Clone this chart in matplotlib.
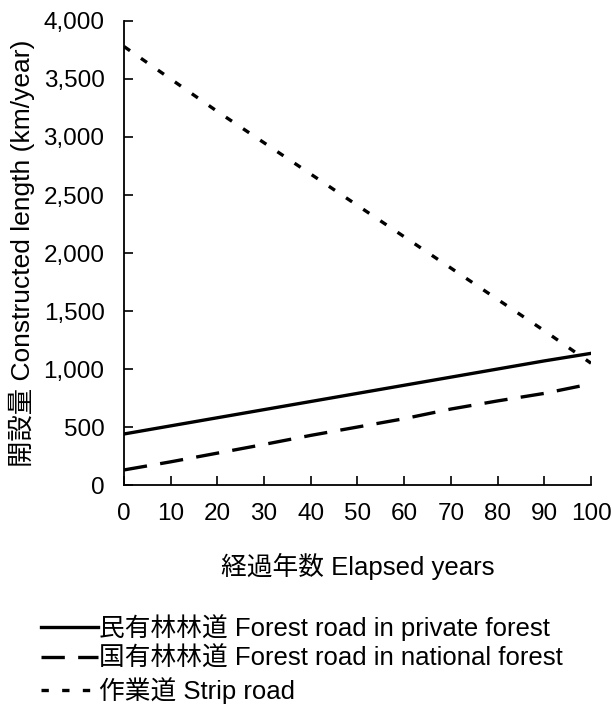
import matplotlib.pyplot as plt
from matplotlib.ticker import FuncFormatter

plt.rcParams['font.family'] = ['Liberation Sans', 'Noto Sans CJK JP']

# Constructed length (km/year) by elapsed years
years = [0, 10, 20, 30, 40, 50, 60, 70, 80, 90, 100]
private_road = [440, 510, 580, 650, 720, 790, 860, 930, 1000, 1070, 1135]
national_road = [130, 200, 275, 350, 428, 500, 572, 655, 725, 790, 872]
strip_road = [3780, 3500, 3220, 2950, 2680, 2410, 2140, 1870, 1600, 1330, 1050]

labels = [
    "民有林林道 Forest road in private forest",
    "国有林林道 Forest road in national forest",
    "作業道 Strip road",
]

fig = plt.figure(figsize=(6.12, 7.09), dpi=100)
ax = fig.add_axes([0.2026, 0.3159, 0.7631, 0.6545])

lw = 2.4
l1, = ax.plot(years, private_road, color="black", lw=lw, linestyle="-")
l2, = ax.plot(years, national_road, color="black", lw=lw, linestyle=(0, (7.0, 4.0)))
l3, = ax.plot(years, strip_road, color="black", lw=lw, linestyle=(0, (2.2, 4.0)))

ax.set_xlim(0, 100)
ax.set_ylim(0, 4000)
ax.set_xticks(range(0, 101, 10))
ax.set_yticks(range(0, 4001, 500))
ax.yaxis.set_major_formatter(FuncFormatter(lambda v, p: f"{int(v):,}"))

for s in ["top", "right"]:
    ax.spines[s].set_visible(False)
for s in ["left", "bottom"]:
    ax.spines[s].set_linewidth(1.3)

ax.tick_params(axis="both", direction="in", length=6.5, width=1.2, labelsize=17.5)
ax.tick_params(axis="y", pad=14)
ax.tick_params(axis="x", pad=13)

ax.set_ylabel("開設量 Constructed length (km/year)", fontsize=19, labelpad=6)
ax.set_xlabel("経過年数 Elapsed years", fontsize=18.5, labelpad=20)

fig.legend(
    [l1, l2, l3], labels,
    loc="upper left", bbox_to_anchor=(0.03, 0.167),
    frameon=False, handlelength=2.2, handletextpad=0.05,
    labelspacing=0.24, prop={"size": 18.5},
)

fig.savefig("out.png", dpi=100)
